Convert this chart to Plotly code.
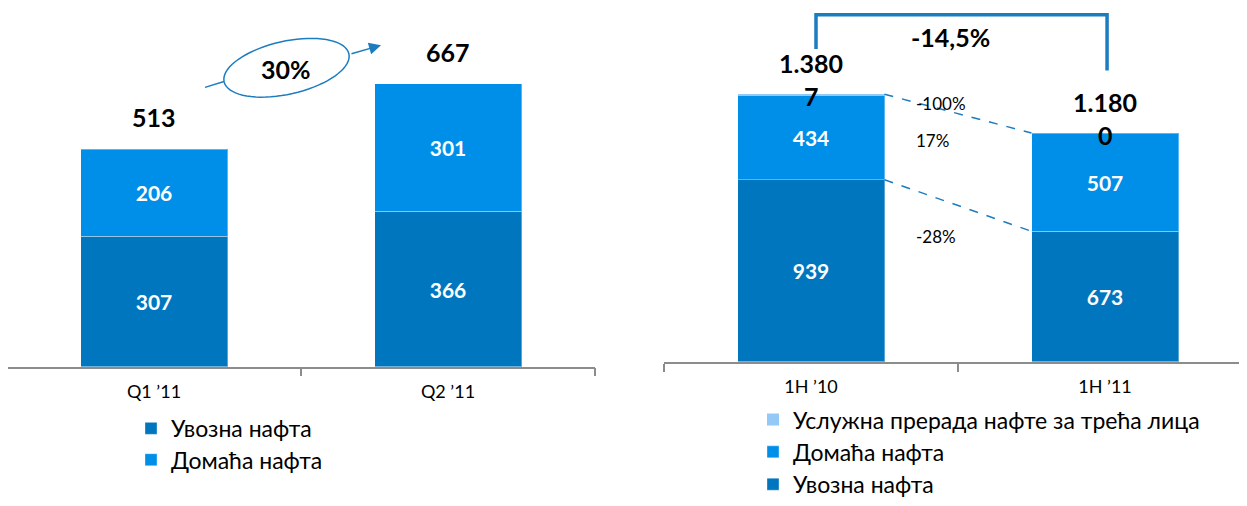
import math
import plotly.graph_objects as go

# ---------------- data ----------------
q_cats = ["Q1 ’11", "Q2 ’11"]
q_import = [307, 366]      # Увозна нафта
q_domestic = [206, 301]    # Домаћа нафта

h_cats = ["1H ’10", "1H ’11"]
h_import = [939, 673]      # Увозна нафта
h_domestic = [434, 507]    # Домаћа нафта
h_service = [7, 0]         # Услужна прерада нафте за трећа лица

name_import = "Увозна нафта"
name_domestic = "Домаћа нафта"
name_service = "Услужна прерада нафте за трећа лица"

# ---------------- style ----------------
OFF = 8                      # default page body margin
W, H = 1247 - OFF, 506 - OFF
C_DARK = "#0076BE"
C_MID = "#008FE8"
C_LIGHT = "#92C9F7"
C_LINE = "#1C7CC0"
FONT = "Lato"


def px_to_paper(px, py):
    """page pixel -> paper coordinates"""
    return (px - OFF) / W, 1 - (py - OFF) / H


def fmt_thousands(v):
    return f"{v:,}".replace(",", ".")


def pct(a, b, decimals=0):
    v = (b - a) / a * 100 if a else 0
    s = f"{v:.{decimals}f}".replace(".", ",")
    return s + "%"


q_tot = [a + b for a, b in zip(q_import, q_domestic)]
h_tot = [a + b + c for a, b, c in zip(h_import, h_domestic, h_service)]

fig = go.Figure()

inside_font = dict(family=FONT, size=21, color="white", weight="bold")
bar_line = dict(color="rgba(255,255,255,0.35)", width=1)


def bar(x, y, name, color, xa, ya, leg, text=True, line=bar_line):
    return go.Bar(x=x, y=y, name=name, xaxis=xa, yaxis=ya,
                  marker=dict(color=color, line=line),
                  text=y if text else None,
                  textposition="inside" if text else "none",
                  insidetextanchor="middle", textfont=inside_font,
                  legend=leg)


# left chart
fig.add_trace(bar(q_cats, q_import, name_import, C_DARK, "x", "y", "legend"))
fig.add_trace(bar(q_cats, q_domestic, name_domestic, C_MID, "x", "y", "legend2"))
# right chart
fig.add_trace(bar(h_cats, h_import, name_import, C_DARK, "x2", "y2", "legend5"))
fig.add_trace(bar(h_cats, h_domestic, name_domestic, C_MID, "x2", "y2", "legend4"))
fig.add_trace(bar(h_cats, h_service, name_service, C_LIGHT, "x2", "y2", "legend3",
                  text=False, line=dict(width=0)))

annotations = []
bold_big = dict(family=FONT, size=25, color="black", weight="bold")

# totals left
for c, t in zip(q_cats, q_tot):
    annotations.append(dict(x=c, y=t, xref="x", yref="y", text=str(t), showarrow=False,
                            xanchor="center", yanchor="middle", yshift=32, font=bold_big))
# totals right + service labels
for c, t, s in zip(h_cats, h_tot, h_service):
    annotations.append(dict(x=c, y=t, xref="x2", yref="y2", text=fmt_thousands(t), showarrow=False,
                            xanchor="center", yanchor="middle", yshift=31, font=bold_big))
    annotations.append(dict(x=c, y=t, xref="x2", yref="y2", text=str(s), showarrow=False,
                            xanchor="center", yanchor="middle", yshift=-2, font=bold_big))

# percent change labels (right)
small = dict(family=FONT, size=17, color="black")
for txt, yy in [(pct(h_service[0], h_service[1]), 1330),
                (pct(h_domestic[0], h_domestic[1]), 1143),
                (pct(h_import[0], h_import[1]), 647)]:
    annotations.append(dict(x=0.35, y=yy, xref="x2", yref="y2", text=txt, showarrow=False,
                            xanchor="left", yanchor="middle", font=small))

# total change
annotations.append(dict(x=0.475, y=1673, xref="x2", yref="y2",
                        text=pct(h_tot[0], h_tot[1], 1), showarrow=False,
                        xanchor="center", yanchor="middle", font=bold_big))

# growth left
gx, gy = px_to_paper(286, 70)
annotations.append(dict(x=gx, y=gy, xref="paper", yref="paper",
                        text=pct(q_tot[0], q_tot[1]), showarrow=False,
                        xanchor="center", yanchor="middle", font=bold_big))
hx, hy = px_to_paper(381, 46)
annotations.append(dict(x=hx, y=hy, xref="paper", yref="paper", text="", showarrow=True,
                        xanchor="center", yanchor="middle",
                        ax=-31, ay=9, arrowhead=2, arrowsize=1.6, arrowwidth=1.5,
                        arrowcolor=C_LINE))

shapes = []
# dashed connectors (right) from bar edge to bar edge
half = 0.25
for y0, y1 in [(h_tot[0], h_tot[1]), (h_import[0], h_import[1])]:
    shapes.append(dict(type="line", xref="x2", yref="y2", x0=0 + half, y0=y0, x1=1 - half, y1=y1,
                       line=dict(color=C_LINE, width=1.5, dash="dash")))
# bracket
shapes.append(dict(type="path", xref="x2", yref="y2",
                   path="M 0.017,1613 L 0.017,1790 L 1.007,1790 L 1.007,1502",
                   line=dict(color=C_LINE, width=3.5)))
# ellipse (rotated) in paper coords
cx, cy, a, b, ang = 286.5, 69, 64, 27, math.radians(-13)
pts = []
for i in range(73):
    t = 2 * math.pi * i / 72
    x = cx + a * math.cos(t) * math.cos(ang) - b * math.sin(t) * math.sin(ang)
    y = cy + a * math.cos(t) * math.sin(ang) + b * math.sin(t) * math.cos(ang)
    px, py = px_to_paper(x, y)
    pts.append(f"{px:.5f},{py:.5f}")
shapes.append(dict(type="path", xref="paper", yref="paper",
                   path="M " + " L ".join(pts) + " Z", line=dict(color=C_LINE, width=1.5)))
lx0, ly0 = px_to_paper(205, 89)
lx1, ly1 = px_to_paper(224, 83)
shapes.append(dict(type="line", xref="paper", yref="paper", x0=lx0, y0=ly0, x1=lx1, y1=ly1,
                   line=dict(color=C_LINE, width=1.5)))

axis_common = dict(showgrid=False, zeroline=False, showline=True, linecolor="#8C8C8C",
                   linewidth=1.5, ticks="outside", ticklen=8, tickcolor="#8C8C8C",
                   tickwidth=1.5, tickson="boundaries", ticklabelstandoff=8,
                   tickfont=dict(family=FONT, size=18, color="black"))
yaxis_common = dict(visible=False, showgrid=False, zeroline=False)

legend_font = dict(family=FONT, size=23, color="black")


def legend_at(px, py):
    x, y = px_to_paper(px, py)
    return dict(x=x, y=y, xanchor="left", yanchor="middle", font=legend_font,
                bgcolor="rgba(0,0,0,0)", itemclick=False, itemdoubleclick=False)


# axis positions in page pixels
L_X0, L_X1, L_Y = 7, 595, 374
R_X0, R_Y = 664, 369

fig.update_layout(
    width=W, height=H, barmode="stack", bargap=0.5,
    margin=dict(l=0, r=0, t=0, b=0),
    paper_bgcolor="white", plot_bgcolor="white",
    font=dict(family=FONT),
    modebar=dict(bgcolor="rgba(0,0,0,0)", color="rgba(0,0,0,0)",
                 activecolor="rgba(0,0,0,0)"),
    xaxis=dict(domain=[0, (L_X1 - OFF) / W], range=[-0.5 + (OFF - L_X0) / 294, 1.5],
               anchor="y", **axis_common),
    yaxis=dict(domain=[1 - (L_Y - OFF) / H, 1], range=[0, (L_Y - OFF) / 0.4327],
               anchor="x", **yaxis_common),
    xaxis2=dict(domain=[(R_X0 - OFF) / W, 1], range=[-0.5, 1.5 - (1252 - 1247) / 294],
                anchor="y2", **axis_common),
    yaxis2=dict(domain=[1 - (R_Y - OFF) / H, 1], range=[0, (R_Y - OFF) / 0.1978],
                anchor="x2", **yaxis_common),
    legend=legend_at(131, 437),
    legend2=legend_at(131, 469),
    legend3=legend_at(753, 428),
    legend4=legend_at(753, 461),
    legend5=legend_at(753, 494),
    annotations=annotations, shapes=shapes, showlegend=True,
)

fig.write_html("out.html")
